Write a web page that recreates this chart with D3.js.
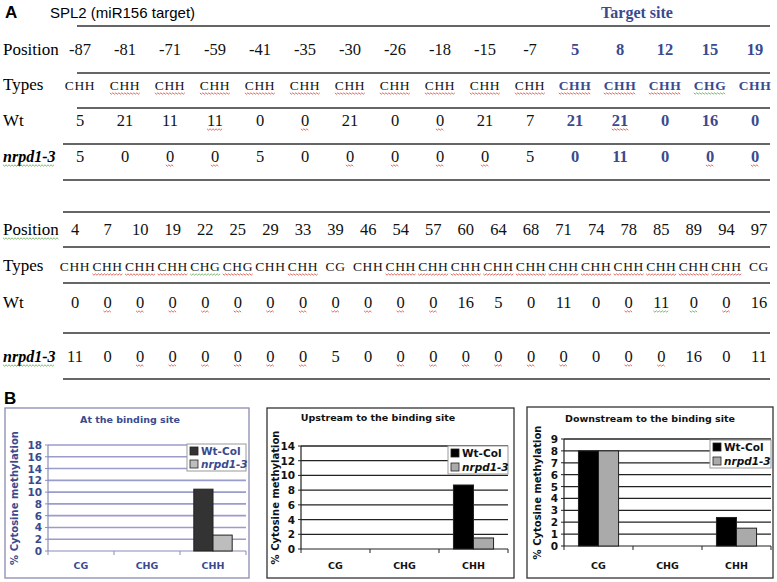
<!DOCTYPE html>
<html><head><meta charset="utf-8">
<script src="https://cdn.jsdelivr.net/npm/d3@7/dist/d3.min.js"></script>
<style>body{margin:0;background:#fff}svg{display:block}</style>
</head><body>
<svg id="c" width="777" height="582"></svg>
<script>
// ---------- data ----------
const topPositions = [-87,-81,-71,-59,-41,-35,-30,-26,-18,-15,-7,5,8,12,15,19];
const topTypes = ["CHH","CHH","CHH","CHH","CHH","CHH","CHH","CHH","CHH","CHH","CHH","CHH","CHH","CHH","CHG","CHH"];
const topWt = [5,21,11,11,0,0,21,0,0,21,7,21,21,0,16,0];
const topNrpd = [5,0,0,0,5,0,0,0,0,0,5,0,11,0,0,0];

const botPositions = [4,7,10,19,22,25,29,33,39,46,54,57,60,64,68,71,74,78,85,89,94,97];
const botTypes = ["CHH","CHH","CHH","CHH","CHG","CHG","CHH","CHH","CG","CHH","CHH","CHH","CHH","CHH","CHH","CHH","CHH","CHH","CHH","CHH","CHH","CG"];
const botWt = [0,0,0,0,0,0,0,0,0,0,0,0,16,5,0,11,0,0,11,0,0,16];
const botNrpd = [11,0,0,0,0,0,0,0,5,0,0,0,0,0,0,0,0,0,0,16,0,11];

const rowLabels = ["Position","Types","Wt","nrpd1-3"];
const contexts = ["CG","CHG","CHH"];
const seriesNames = ["Wt-Col","nrpd1-3"];
const atWt = [0,0,10.5],  atNrpd = [0,0,2.7];
const upWt = [0,0,8.7],   upNrpd = [0,0,1.5];
const downWt = [8,0,2.4], downNrpd = [8,0,1.5];

// spell-check squiggle marks per row (r = red, g = green, . = none)
const topMarks = ["................", ".rrrrrrrrrrrrrg.", "...r.r..r...r...", "..rr..rrrr....rr"];
const botMarks = ["......................", ".rrrgr.r..rrrrrrrrrrr.", ".rrrrrrrrrrr.....rggr.", "..rrrrrr..rrrrrr.rr..."];

// ---------- drawing ----------
const svg = d3.select("#c");
const SERIF = "'Liberation Serif','Times New Roman',serif";
const SANS = "'Liberation Sans',Arial,sans-serif";
const VERD = "'DejaVu Sans',Verdana,sans-serif";
const BLUE = "#3a4a8e";
const SQ = {r:"#d9453a", g:"#5aa84a"};

function squiggle(g, x0, x1, y, color){
  const pts = [];
  for(let x=x0, k=0; x<=x1; x+=1.5, k++) pts.push([x, y + (k%2 ? 1.2 : -0.2)]);
  g.append("path").attr("d", d3.line()(pts)).attr("fill","none").attr("stroke",color).attr("stroke-width",0.8);
}
function underlineText(g, node, code){
  if(!code || code==='.') return;
  const b = node.getBBox();
  const yb = +node.getAttribute("y") + 3;
  squiggle(g, b.x, b.x + b.width, yb, SQ[code]);
}

svg.append("text").attr("x",5).attr("y",18).attr("font-family",SANS).attr("font-weight","bold").attr("font-size",17).text("A");
svg.append("text").attr("x",50).attr("y",18).attr("font-family",SANS).attr("font-size",15).text("SPL2 (miR156 target)");
svg.append("text").attr("x",637).attr("y",18).attr("text-anchor","middle").attr("font-family",SERIF).attr("font-weight","bold").attr("font-size",16).attr("fill",BLUE).text("Target site");

function table(cfg){
  const g = svg.append("g");
  const x = d3.scalePoint().domain(d3.range(cfg.pos.length)).range(cfg.range);
  cfg.lines.forEach((ly,i)=>{
    g.append("line").attr("x1",cfg.lineX[i]).attr("x2",770).attr("y1",ly).attr("y2",ly)
      .attr("stroke","#333").attr("stroke-width",1.6);
  });
  rowLabels.forEach((lab,i)=>{
    const t = g.append("text").attr("x",3).attr("y",cfg.rows[i]).attr("font-family",SERIF).attr("font-size",17).text(lab);
    if(i===3){ t.attr("font-weight","bold").attr("font-style","italic").attr("font-size",16); underlineText(g,t.node(),"g"); }
    if(i===0 && cfg.labelMark) underlineText(g,t.node(),cfg.labelMark);
  });
  const rowsData = [cfg.pos, cfg.types, cfg.wt, cfg.nrpd];
  rowsData.forEach((arr,r)=>{
    const sel = g.selectAll(null).data(arr).join("text")
      .attr("x",(d,i)=>x(i)).attr("y",cfg.rows[r]).attr("text-anchor","middle")
      .attr("font-family",SERIF)
      .attr("font-size", r===1 ? 13.5 : 16.5)
      .attr("letter-spacing", r===1 ? 0.6 : 0)
      .attr("font-weight",(d,i)=> cfg.pos[i]>0 && cfg.blue ? "bold" : "normal")
      .attr("fill",(d,i)=> cfg.pos[i]>0 && cfg.blue ? BLUE : "#111")
      .text(d=>d);
    sel.each(function(d,i){ underlineText(g, this, cfg.marks[r][i]); });
  });
}
table({pos:topPositions,types:topTypes,wt:topWt,nrpd:topNrpd,range:[80,755], marks:topMarks,
  lines:[26,73,108,144,180], lineX:[77,77,77,63,63], rows:[55,90,126,162], blue:true});
table({pos:botPositions,types:botTypes,wt:botWt,nrpd:botNrpd,range:[75,759], marks:botMarks, labelMark:"g",
  lines:[212,247,283,333,379], lineX:[63,63,63,63,63], rows:[235,271,308,362], blue:false});

svg.append("text").attr("x",4).attr("y",404).attr("font-family",SANS).attr("font-weight","bold").attr("font-size",17).text("B");

function barChart(c){
  const g = svg.append("g");
  g.append("rect").attr("x",c.box[0]).attr("y",c.box[1]).attr("width",c.box[2]-c.box[0]).attr("height",c.box[3]-c.box[1])
    .attr("fill","#fff").attr("stroke",c.boxColor).attr("stroke-width",1.3);
  g.append("text").attr("x",c.titleX).attr("y",c.titleY).attr("text-anchor","middle").attr("font-family",VERD)
    .attr("font-weight","bold").attr("font-size",9.5).attr("fill",c.textColor).text(c.title);
  const x = d3.scaleBand().domain(contexts).range([c.px0,c.px1]);
  const y = d3.scaleLinear().domain([0,c.ymax]).range([c.py0,c.py1]);
  const ticks = d3.range(0,c.ymax+0.001,c.step);
  g.selectAll(null).data(ticks.slice(1)).join("line")
    .attr("x1",c.px0).attr("x2",c.px1).attr("y1",d=>y(d)).attr("y2",d=>y(d))
    .attr("stroke",c.gridColor).attr("stroke-width",c.gridW);
  g.append("line").attr("x1",c.px0).attr("x2",c.px0).attr("y1",c.py0).attr("y2",c.py1).attr("stroke",c.axisColor).attr("stroke-width",1.2);
  g.append("line").attr("x1",c.px0).attr("x2",c.px1).attr("y1",c.py0).attr("y2",c.py0).attr("stroke",c.axisColor).attr("stroke-width",1.2);
  g.selectAll(null).data(ticks).join("line").attr("x1",c.px0-3).attr("x2",c.px0).attr("y1",d=>y(d)).attr("y2",d=>y(d)).attr("stroke",c.axisColor);
  g.selectAll(null).data(d3.range(contexts.length+1)).join("line")
    .attr("x1",i=>c.px0+i*x.step()).attr("x2",i=>c.px0+i*x.step()).attr("y1",c.py0).attr("y2",c.py0+4).attr("stroke",c.axisColor);
  g.selectAll(null).data(ticks).join("text").attr("x",c.px0-6).attr("y",d=>y(d)+4).attr("text-anchor","end")
    .attr("font-family",VERD).attr("font-weight","bold").attr("font-size",10.5).attr("fill",c.textColor).text(d=>d);
  g.selectAll(null).data(contexts).join("text").attr("x",d=>x(d)+x.bandwidth()/2).attr("y",569).attr("text-anchor","middle")
    .attr("font-family",VERD).attr("font-weight","bold").attr("font-size",9.5).attr("fill",c.textColor).text(d=>d);
  g.append("text").attr("transform",`translate(${c.ylabX},${(c.py0+c.py1)/2}) rotate(-90)`).attr("text-anchor","middle")
    .attr("font-family",VERD).attr("font-weight","bold").attr("font-size",10).attr("fill",c.textColor).text("% Cytosine methylation");
  const inner = d3.scaleBand().domain([0,1]).range([0,x.bandwidth()]).paddingInner(0).paddingOuter(0.72);
  [c.wt,c.nrpd].forEach((vals,s)=>{
    g.selectAll(null).data(contexts.map((k,i)=>({k,v:vals[i]})).filter(d=>d.v>0)).join("rect")
      .attr("x",d=>x(d.k)+inner(s)).attr("width",inner.bandwidth())
      .attr("y",d=>y(d.v)).attr("height",d=>y(0)-y(d.v))
      .attr("fill",c.colors[s]).attr("stroke","#222").attr("stroke-width",1);
  });
  const L = c.leg;
  g.append("rect").attr("x",L[0]).attr("y",L[1]).attr("width",L[2]-L[0]).attr("height",L[3]-L[1])
    .attr("fill","#fff").attr("stroke","#999").attr("stroke-width",1);
  seriesNames.forEach((n,s)=>{
    const yy = L[1]+7+s*(L[3]-L[1]-14);
    g.append("rect").attr("x",L[0]+3).attr("y",yy-4).attr("width",8).attr("height",8).attr("fill",c.colors[s]).attr("stroke","#222").attr("stroke-width",0.8);
    g.append("text").attr("x",L[0]+14).attr("y",yy+4).attr("font-family",VERD).attr("font-weight","bold")
      .attr("font-style",s===1?"italic":"normal").attr("font-size",10.5).attr("fill",c.textColor).text(n);
  });
}

barChart({box:[5,408,249,578], title:"At the binding site", titleX:130, titleY:423, textColor:BLUE, boxColor:"#8a8cb0",
  px0:48, px1:246, py0:551, py1:445, ymax:18, step:2, gridColor:"#9a9ccb", gridW:1.6, axisColor:"#8a8cba",
  ylabX:18, wt:atWt, nrpd:atNrpd, colors:["#333","#bdbdbd"], leg:[187,444,246,471]});
barChart({box:[267,408,514,578], title:"Upstream to the binding site", titleX:378, titleY:421, textColor:"#111", boxColor:"#333",
  px0:301, px1:508, py0:549, py1:446, ymax:14, step:2, gridColor:"#222", gridW:1.3, axisColor:"#222",
  ylabX:279, wt:upWt, nrpd:upNrpd, colors:["#000","#aaa"], leg:[448,446,508,474]});
barChart({box:[527,407,773,578], title:"Downstream to the binding site", titleX:650, titleY:422, textColor:"#111", boxColor:"#333",
  px0:564, px1:771, py0:546, py1:439, ymax:9, step:1, gridColor:"#222", gridW:1.3, axisColor:"#222",
  ylabX:541, wt:downWt, nrpd:downNrpd, colors:["#000","#aaa"], leg:[710,440,771,468]});
</script>
</body></html>
